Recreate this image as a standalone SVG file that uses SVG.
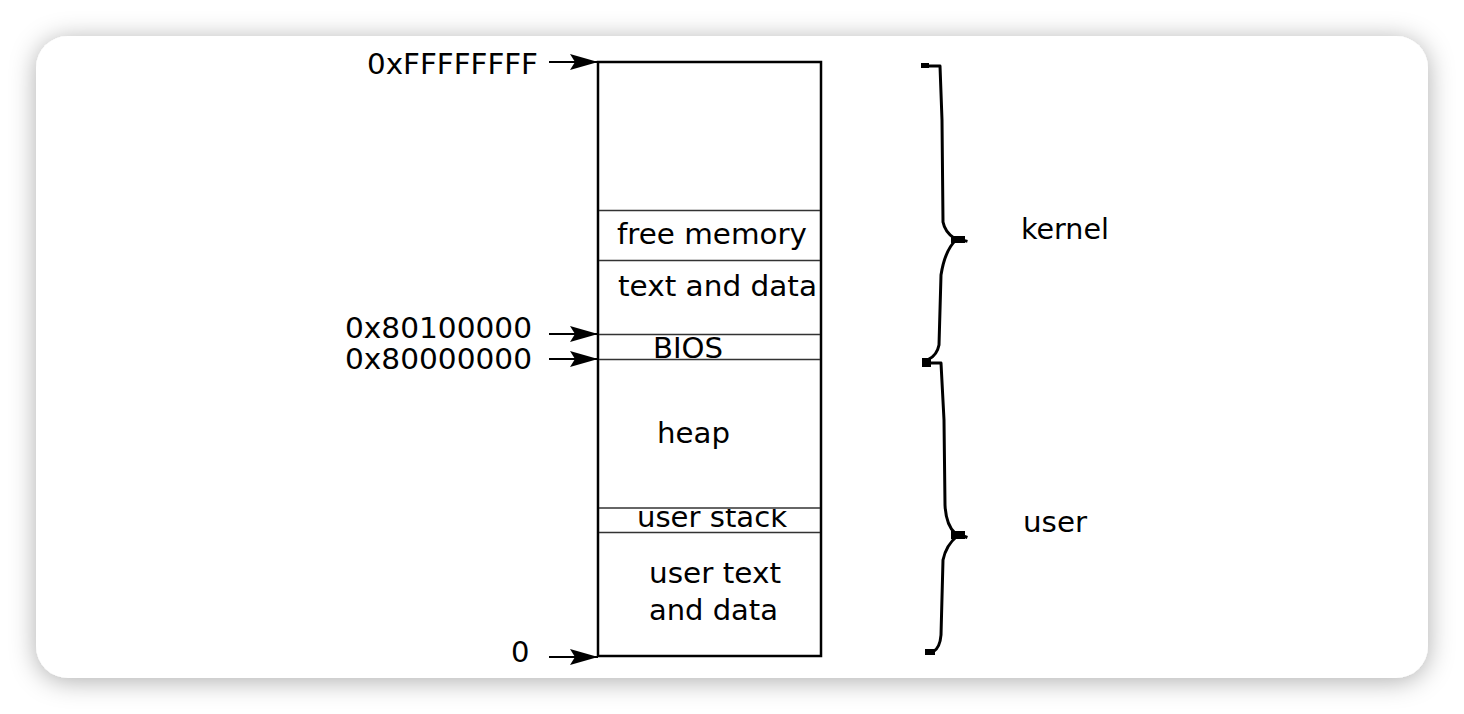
<svg xmlns="http://www.w3.org/2000/svg" width="1464" height="714" viewBox="0 0 1464 714">
  <defs>
    <filter id="shadow" x="-10%" y="-10%" width="120%" height="125%">
      <feDropShadow dx="0" dy="3" stdDeviation="13" flood-color="#000" flood-opacity="0.32"/>
    </filter>
    <marker id="arrow" markerUnits="userSpaceOnUse" markerWidth="30" markerHeight="20" refX="28" refY="9" orient="auto">
      <path d="M0,1 L28,9 L0,17 L5,9 Z" fill="#000"/>
    </marker>
    <clipPath id="stackClip"><rect x="599" y="509" width="221" height="23"/></clipPath>
  </defs>
  <style>
    text { font-family: "DejaVu Sans", "Liberation Sans", sans-serif; font-size: 29px; fill: #000; }
    .box { fill: #fff; stroke: #000; stroke-width: 2.5; }
    .div { stroke: #333; stroke-width: 1.3; fill: none; }
    .arr { stroke: #000; stroke-width: 1.8; fill: none; marker-end: url(#arrow); }
    .brace { stroke: #000; stroke-width: 3; fill: none; stroke-linecap: square; stroke-linejoin: round; }
  </style>

  <rect width="1464" height="714" fill="#ffffff"/>
  <rect id="card" x="36" y="36" width="1392" height="642" rx="32" ry="32" fill="#fff" filter="url(#shadow)"/>

  <g id="memory-map">
    <rect class="box" x="598" y="62" width="223" height="594"/>
    <line class="div" x1="599" y1="210.5" x2="820" y2="210.5"/>
    <line class="div" x1="599" y1="260.5" x2="820" y2="260.5"/>
    <line class="div" x1="599" y1="334.5" x2="820" y2="334.5"/>
    <line class="div" x1="599" y1="359.5" x2="820" y2="359.5"/>
    <line class="div" x1="599" y1="508" x2="820" y2="508"/>
    <line class="div" x1="599" y1="532.5" x2="820" y2="532.5"/>
  </g>

  <g id="region-free-memory"><text x="617" y="244" textLength="190" lengthAdjust="spacingAndGlyphs">free memory</text></g>
  <g id="region-kernel-text"><text x="618" y="296" textLength="199" lengthAdjust="spacingAndGlyphs">text and data</text></g>
  <g id="region-bios"><text x="653" y="358" textLength="70" lengthAdjust="spacingAndGlyphs">BIOS</text></g>
  <g id="region-heap"><text x="657" y="443" textLength="73" lengthAdjust="spacingAndGlyphs">heap</text></g>
  <g id="region-user-stack" clip-path="url(#stackClip)"><text x="637" y="527" textLength="150" lengthAdjust="spacingAndGlyphs">user stack</text></g>
  <g id="region-user-text">
    <text x="649" y="583" textLength="132" lengthAdjust="spacingAndGlyphs">user text</text>
    <text x="649" y="620" textLength="129" lengthAdjust="spacingAndGlyphs">and data</text>
  </g>

  <g id="addr-top"><text x="367" y="74" textLength="171" lengthAdjust="spacingAndGlyphs">0xFFFFFFFF</text></g>
  <g id="addr-80100000"><text x="345" y="338" textLength="187" lengthAdjust="spacingAndGlyphs">0x80100000</text></g>
  <g id="addr-80000000"><text x="345" y="369" textLength="187" lengthAdjust="spacingAndGlyphs">0x80000000</text></g>
  <g id="addr-zero"><text x="511" y="662">0</text></g>

  <g id="label-kernel"><text x="1021" y="239" textLength="88" lengthAdjust="spacingAndGlyphs">kernel</text></g>
  <g id="label-user"><text x="1023" y="532" textLength="64" lengthAdjust="spacingAndGlyphs">user</text></g>

  <g id="connectors">
    <line class="arr" x1="549" y1="62" x2="598" y2="62"/>
    <line class="arr" x1="549" y1="334" x2="598" y2="334"/>
    <line class="arr" x1="549" y1="359" x2="598" y2="359"/>
    <line class="arr" x1="549" y1="657" x2="598" y2="657"/>
  </g>

  <g id="brace-kernel">
    <path class="brace" d="M924,66 H940 L942,120 L943,222 Q945,232 954,238 L966,241"/>
    <path class="brace" d="M956,240 Q945,250 941,275 L939,345 Q937,355 929,359"/>
    <rect x="921" y="63" width="8" height="5" fill="#000"/>
    <rect x="951" y="236" width="14" height="7" fill="#000"/>
  </g>
  <g id="brace-user">
    <path class="brace" d="M924,363 H941 L944,420 L945,505 Q946,525 955,533 L966,537"/>
    <path class="brace" d="M957,536 Q946,545 943,560 L941,635 Q940,648 933,652 H927"/>
    <rect x="922" y="358" width="9" height="9" fill="#000"/>
    <rect x="951" y="531" width="14" height="8" fill="#000"/>
    <rect x="925" y="649" width="10" height="6" fill="#000"/>
  </g>
</svg>
